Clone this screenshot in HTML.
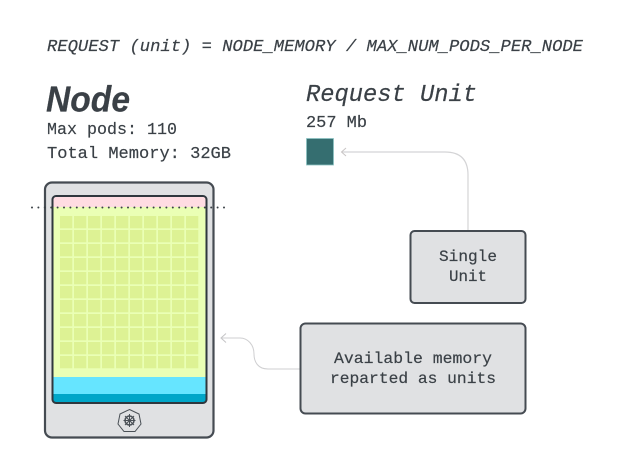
<!DOCTYPE html>
<html><head><meta charset="utf-8"><style>
html,body{margin:0;padding:0;background:#fff}
svg{display:block}
text{font-family:"Liberation Mono",monospace;fill:#3a4046;stroke:#3a4046;stroke-width:.18px}
</style></head><body>
<svg xmlns="http://www.w3.org/2000/svg" width="632" height="474" viewBox="0 0 632 474">
<defs><pattern id="cells" x="60" y="216" width="14" height="14" patternUnits="userSpaceOnUse"><rect width="12.300" height="12.300" fill="#ddf294"/></pattern></defs>
<rect width="632" height="474" fill="#fff"/>
<text x="47" y="51" font-size="17" font-style="italic" textLength="536" lengthAdjust="spacingAndGlyphs">REQUEST (unit) = NODE_MEMORY / MAX_NUM_PODS_PER_NODE</text>
<text x="46" y="111.500" font-size="36" font-style="italic" font-weight="bold" textLength="84" lengthAdjust="spacingAndGlyphs" style="font-family:'Liberation Sans',sans-serif">Node</text>
<text x="47" y="134" font-size="17" textLength="130" lengthAdjust="spacingAndGlyphs">Max pods: 110</text>
<text x="47" y="158" font-size="17" textLength="184" lengthAdjust="spacingAndGlyphs">Total Memory: 32GB</text>
<text x="306" y="101" font-size="24" font-style="italic" textLength="171" lengthAdjust="spacingAndGlyphs">Request Unit</text>
<text x="306" y="127" font-size="17" textLength="61" lengthAdjust="spacingAndGlyphs">257 Mb</text>
<rect x="306.500" y="138.500" width="27" height="26.500" fill="#356e70" stroke="#8cc4c4" stroke-width="0.800"/>
<path d="M468 231V175Q468 152 445 152H342" fill="none" stroke="#d4d4d6" stroke-width="1.200"/>
<path d="M346 148L341.500 152L346 156" fill="none" stroke="#c9c5c5" stroke-width="1"/>
<path d="M300 369H268C258 369 254 362 254 354C254 345 248 338 240 338H222" fill="none" stroke="#cfcfd1" stroke-width="1"/>
<path d="M226 333.500L221 338L226 342.500" fill="none" stroke="#c4c4c6" stroke-width="1"/>

<rect x="45" y="182.500" width="168.500" height="255" rx="7" fill="#e0e1e3" stroke="#454b52" stroke-width="2.200"/>
<rect x="52.500" y="196" width="154" height="207" rx="3.500" fill="#eaffb5"/>
<path d="M53 207V199.500Q53 196 56.500 196H202.500Q206 196 206 199.500V207Z" fill="#ffdce2"/>
<rect x="53" y="377" width="153" height="17" fill="#66e5ff"/>
<path d="M53 394H206V399.500Q206 403 202.500 403H56.500Q53 403 53 399.500Z" fill="#00a6c8"/>
<rect x="60" y="216" width="139" height="153" fill="url(#cells)"/>
<rect x="52.500" y="196" width="154" height="207" rx="3.500" fill="none" stroke="#2f373e" stroke-width="2"/>
<line x1="32" y1="207.500" x2="227" y2="207.500" stroke="#3a4046" stroke-width="2" stroke-linecap="round" stroke-dasharray="0 6.400"/>

<g fill="none" stroke="#4a5056">
<path d="M129.500 409.500L139 414L141 424L135 431.500H124L118 424L120 414Z" stroke-width="1"/>
<circle cx="129.500" cy="420.500" r="4.500" stroke-width="1.500"/>
<path d="M129.500 414V427M123.500 420.500H135.500M125 416L134 425M134 416L125 425" stroke-width="1"/>
</g>

<rect x="410.500" y="231" width="115" height="72" rx="4" fill="#e0e1e3" stroke="#454b52" stroke-width="2"/>
<text x="468" y="261" font-size="16" text-anchor="middle" textLength="58" lengthAdjust="spacingAndGlyphs">Single</text>
<text x="468" y="281" font-size="16" text-anchor="middle" textLength="38" lengthAdjust="spacingAndGlyphs">Unit</text>
<rect x="300.500" y="323.500" width="225" height="90" rx="5" fill="#e0e1e3" stroke="#454b52" stroke-width="2"/>
<text x="413" y="363" font-size="16" text-anchor="middle" textLength="158" lengthAdjust="spacingAndGlyphs">Available memory</text>
<text x="413" y="383" font-size="16" text-anchor="middle" textLength="166" lengthAdjust="spacingAndGlyphs">reparted as units</text>
</svg>
</body></html>
